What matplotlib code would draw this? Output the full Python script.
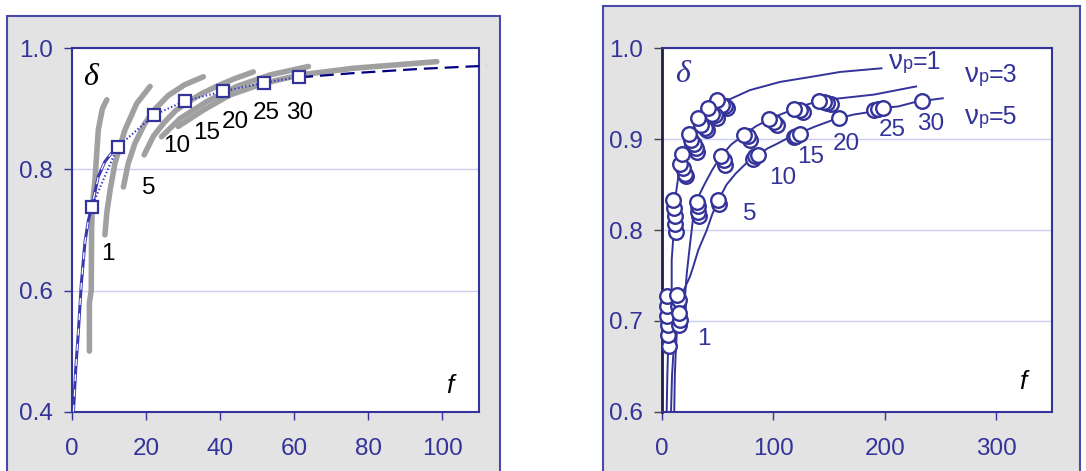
import matplotlib
matplotlib.use('Agg')
import matplotlib.pyplot as plt
from matplotlib.patches import Rectangle
from matplotlib.offsetbox import TextArea, HPacker, AnnotationBbox

plt.rcParams['font.family'] = ['Liberation Sans', 'DejaVu Sans']
plt.rcParams['lines.scale_dashes'] = False

# ---------------- Left panel data ----------------
left_xticks = [0, 20, 40, 60, 80, 100]
left_yticks = [0.4, 0.6, 0.8, 1.0]
left_yticklabels = ['0.4', '0.6', '0.8', '1.0']

gray1_f = [4.7, 4.7, 5.2, 5.3, 5.5, 6.2, 7.1, 8.2, 9.4]
gray1_d = [0.50, 0.58, 0.60, 0.70, 0.74, 0.782, 0.865, 0.90, 0.915]
gray2_f = [8.9, 9.4, 10.3, 11.6, 14.3, 17.5, 21.1]
gray2_d = [0.692, 0.728, 0.766, 0.810, 0.865, 0.909, 0.937]
gray3_f = [13.9, 15.2, 17.0, 19.7, 22.5, 26.0, 30.5, 35.5]
gray3_d = [0.771, 0.81, 0.843, 0.876, 0.90, 0.922, 0.94, 0.953]
gray4_f = [19.5, 22, 25, 28, 31, 35, 39, 44, 49]
gray4_d = [0.824, 0.855, 0.878, 0.897, 0.91, 0.925, 0.937, 0.95, 0.961]
gray5_f = [24.2, 29.2, 36.4, 44.5, 53.5, 63.9]
gray5_d = [0.854, 0.884, 0.912, 0.937, 0.956, 0.970]
gray6_f = [28.7, 35.5, 42.7, 51.7, 61.6, 76, 98.6]
gray6_d = [0.871, 0.898, 0.923, 0.942, 0.956, 0.967, 0.978]

square_f = [5.3, 12.3, 22.2, 30.5, 40.9, 51.9, 61.4]
square_d = [0.738, 0.837, 0.890, 0.913, 0.929, 0.943, 0.953]

lowcurve_f = [0.4, 1.0, 1.7, 2.5, 3.5, 4.4, 5.3, 7.1, 8.9, 10.7, 12.3]
lowcurve_d = [0.40, 0.47, 0.53, 0.61, 0.68, 0.715, 0.738, 0.788, 0.813, 0.827, 0.837]

tail_f = [61.4, 76, 94, 107.6, 112]
tail_d = [0.952, 0.959, 0.966, 0.970, 0.971]

left_labels = ['1', '5', '10', '15', '20', '25', '30']
left_label_f = [9.8, 20.8, 28.3, 36.4, 44.1, 52.6, 61.6]
left_label_d = [0.661, 0.769, 0.838, 0.860, 0.879, 0.893, 0.893]

# ---------------- Right panel data ----------------
right_xticks = [0, 100, 200, 300]
right_yticks = [0.6, 0.7, 0.8, 0.9, 1.0]
right_yticklabels = ['0.6', '0.7', '0.8', '0.9', '1.0']

nu1_line_f = [4.2, 4.8, 5.5, 6.5, 8.7, 8.7, 10.2, 11.7, 15, 18, 24, 32, 41, 50,
              61, 79, 106, 136, 160, 197]
nu1_line_d = [0.6, 0.64, 0.67, 0.70, 0.73, 0.767, 0.793, 0.833, 0.862, 0.884, 0.905,
              0.921, 0.933, 0.943, 0.944, 0.954, 0.963, 0.969, 0.974, 0.978]
nu3_line_f = [8.1, 9, 10.5, 12.5, 16, 20.7, 22.2, 25.2, 28.1, 31.2, 38, 45, 52.8, 62,
              74, 84, 96.3, 108, 118.9, 130, 140.7, 160, 190, 228]
nu3_line_d = [0.6, 0.64, 0.67, 0.70, 0.72, 0.727, 0.752, 0.785, 0.815, 0.833, 0.85,
              0.866, 0.881, 0.894, 0.905, 0.914, 0.922, 0.928, 0.933, 0.938, 0.942,
              0.945, 0.949, 0.958]
nu5_line_f = [11, 11.5, 12.5, 14, 16, 20, 25.2, 28.1, 32.6, 40.2, 45, 50.6, 58, 66,
              78.6, 85, 95, 103.4, 115.8, 122, 137.6, 153.1, 158.7, 171.7, 187.3,
              196, 212, 227.6, 233, 252]
nu5_line_d = [0.6, 0.64, 0.67, 0.70, 0.72, 0.735, 0.749, 0.76, 0.778, 0.80, 0.817,
              0.833, 0.85, 0.862, 0.877, 0.882, 0.89, 0.895, 0.903, 0.906, 0.914,
              0.921, 0.923, 0.927, 0.930, 0.934, 0.936, 0.941, 0.942, 0.945]

nu1_pts_f = [4.5, 4.5, 4.8, 5.0, 5.5, 6.2,
             10, 11, 11.5, 12, 12.7,
             18, 16.5, 18.9, 20.2, 21.1,
             24.2, 25.8, 28.3, 30.4, 31.4,
             32.6, 35.1, 38.2, 40.7,
             41.3, 45, 47.5, 49.1,
             49.1, 53.7, 56.8, 58.4]
nu1_pts_d = [0.727, 0.716, 0.705, 0.695, 0.684, 0.672,
             0.833, 0.824, 0.815, 0.807, 0.798,
             0.884, 0.873, 0.868, 0.862, 0.859,
             0.906, 0.899, 0.895, 0.890, 0.886,
             0.923, 0.916, 0.912, 0.910,
             0.934, 0.928, 0.927, 0.923,
             0.943, 0.938, 0.936, 0.934]
nu3_pts_f = [13.7, 15.5, 14.6,
             31.1, 32.0, 32.6, 33.5,
             52.8, 55.3, 56.8,
             74, 77, 79,
             96.3, 100.3, 103.4,
             118.9, 123.6, 126.7,
             140.7, 145.3, 148.4, 151.6]
nu3_pts_d = [0.728, 0.723, 0.716,
             0.831, 0.826, 0.820, 0.815,
             0.881, 0.877, 0.872,
             0.905, 0.903, 0.899,
             0.922, 0.919, 0.916,
             0.933, 0.932, 0.930,
             0.942, 0.941, 0.940, 0.939]
nu5_pts_f = [15.5, 16.2, 15.5,
             50.6, 51.2,
             86.3, 83.2, 81.7,
             123.6, 120.5, 118.3,
             158.7,
             198.1, 193.5, 190.4,
             233.2]
nu5_pts_d = [0.709, 0.701, 0.695,
             0.833, 0.829,
             0.883, 0.881, 0.878,
             0.906, 0.904, 0.902,
             0.923,
             0.934, 0.933, 0.932,
             0.942]

right_labels = ['1', '5', '10', '15', '20', '25', '30']
right_label_f = [37.6, 78.4, 108.5, 133.6, 165.3, 206.7, 240.9]
right_label_d = [0.680, 0.818, 0.857, 0.880, 0.895, 0.910, 0.917]

nu_labels = ['=1', '=3', '=5']
nu_label_f = [227.3, 295.6, 295.6]
nu_label_d = [0.985, 0.971, 0.924]

# ---------------- Styles ----------------
BLUE = '#333399'
NAVY = '#000080'
GRAY = '#a0a0a0'
FRAME_BG = '#e3e3e3'
GRID = '#ccccf5'
TICKSIZE = 17.5
LABSIZE = 17.5

W, H = 1086, 471
fig = plt.figure(figsize=(W / 100, H / 100), dpi=100)
fig.patch.set_facecolor('white')

fig.add_artist(Rectangle((7.3 / W, -0.05), (500 - 7.3) / W, 1 - 15.7 / H + 0.05,
                         transform=fig.transFigure, facecolor=FRAME_BG,
                         edgecolor='#4a4aa8', lw=1.5, zorder=-5))
fig.add_artist(Rectangle((602.5 / W, -0.05), (1080 - 602.5) / W, 1 - 5.7 / H + 0.05,
                         transform=fig.transFigure, facecolor=FRAME_BG,
                         edgecolor='#4a4aa8', lw=1.5, zorder=-5))

axL = fig.add_axes([72 / W, 1 - 411.7 / H, (479 - 72) / W, (411.7 - 48.3) / H])
axR = fig.add_axes([662 / W, 1 - 411.7 / H, (1052 - 662) / W, (411.7 - 48.3) / H])

for ax in (axL, axR):
    ax.set_facecolor('white')
    for s in ax.spines.values():
        s.set_color(BLUE)
        s.set_linewidth(1.5)
    ax.tick_params(axis='both', direction='out', length=6, width=1.0,
                   color=BLUE, labelcolor=BLUE, labelsize=TICKSIZE)
    ax.tick_params(axis='x', pad=13)
    ax.tick_params(axis='y', pad=8)
    ax.grid(axis='y', color=GRID, lw=1.0)
    ax.grid(axis='x', visible=False)
    ax.set_axisbelow(True)

# ---- Left panel ----
axL.set_xlim(0, 110)
axL.set_ylim(0.4, 1.0)
axL.set_xticks(left_xticks)
axL.set_yticks(left_yticks)
axL.set_yticklabels(left_yticklabels)

for gf, gd in [(gray1_f, gray1_d), (gray2_f, gray2_d), (gray3_f, gray3_d),
               (gray4_f, gray4_d), (gray5_f, gray5_d), (gray6_f, gray6_d)]:
    axL.plot(gf, gd, color=GRAY, lw=4.0, solid_capstyle='round', zorder=2)

axL.plot(lowcurve_f, lowcurve_d, color='#3838b0', lw=2.2, zorder=3)
axL.plot(lowcurve_f, lowcurve_d, color='white', lw=0.9, dashes=(5, 6), zorder=3.1)
axL.plot(square_f, square_d, color='#3333cc', lw=1.5, ls=':', zorder=3)
axL.plot(tail_f, tail_d, color=NAVY, lw=1.6, dashes=(10, 5), zorder=3, clip_on=False)
axL.plot(square_f, square_d, ls='none', marker='s', ms=8.5, mfc='white',
         mec=BLUE, mew=1.6, zorder=4)

for lab, lf, ld in zip(left_labels, left_label_f, left_label_d):
    axL.text(lf, ld, lab, fontsize=LABSIZE, color='black', ha='center', va='center', zorder=5)

axL.text(4.9, 0.952, 'δ', fontsize=23, style='italic', family='Liberation Serif',
         color='black', ha='center', va='center')
axL.text(102.2, 0.443, 'f', fontsize=19, style='italic', color='black',
         ha='center', va='center')

# ---- Right panel ----
axR.set_xlim(0, 350)
axR.set_ylim(0.6, 1.0)
axR.set_xticks(right_xticks)
axR.set_yticks(right_yticks)
axR.set_yticklabels(right_yticklabels)
axR.spines['left'].set_color('#1c1c4a')
axR.spines['left'].set_linewidth(2)
axR.tick_params(axis='y', color='#444444')

for lf_, ld_ in [(nu1_line_f, nu1_line_d), (nu3_line_f, nu3_line_d), (nu5_line_f, nu5_line_d)]:
    axR.plot(lf_, ld_, color=BLUE, lw=1.4, zorder=2, clip_on=False)

for pf, pd_ in [(nu1_pts_f, nu1_pts_d), (nu3_pts_f, nu3_pts_d), (nu5_pts_f, nu5_pts_d)]:
    axR.plot(pf[::-1], pd_[::-1], ls='none', marker='o', ms=10.5, mfc='white',
             mec=BLUE, mew=1.7, zorder=3, clip_on=False)

for lab, lf, ld in zip(right_labels, right_label_f, right_label_d):
    axR.text(lf, ld, lab, fontsize=LABSIZE, color=BLUE, ha='center', va='center', zorder=5)

for lab, lf, ld in zip(nu_labels, nu_label_f, nu_label_d):
    box = HPacker(children=[TextArea('ν', textprops=dict(size=20, color=BLUE)),
                            TextArea('p', textprops=dict(size=13, color=BLUE)),
                            TextArea(lab, textprops=dict(size=18, color=BLUE))],
                  align='baseline', pad=0, sep=0)
    ab = AnnotationBbox(box, (lf, ld), xycoords='data', frameon=False,
                        box_alignment=(0.5, 0.5), pad=0, zorder=5)
    axR.add_artist(ab)

axR.text(18, 0.971, 'δ', fontsize=23, style='italic', family='Liberation Serif',
         color=BLUE, ha='center', va='center')
axR.text(323.5, 0.633, 'f', fontsize=19, style='italic', color='black',
         ha='center', va='center')

fig.savefig('out.png', dpi=100, facecolor='white')
